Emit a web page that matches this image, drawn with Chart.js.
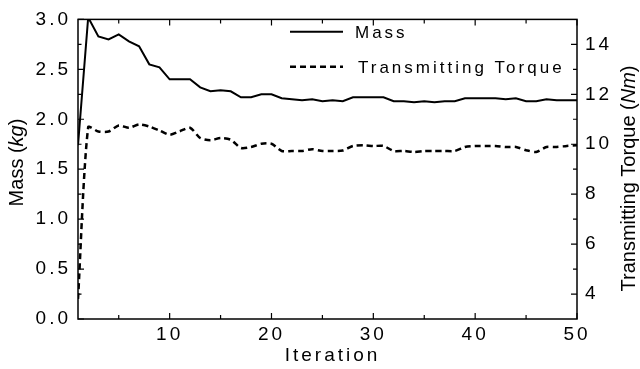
<!DOCTYPE html>
<html>
<head>
<meta charset="utf-8">
<script src="https://cdn.jsdelivr.net/npm/chart.js@4.4.0/dist/chart.umd.min.js"></script>
<style>
  html, body { margin: 0; padding: 0; background: #fff; }
  #wrap { width: 640px; height: 369px; }
</style>
</head>
<body>
<div id="wrap"><canvas id="chart"></canvas></div>
<script>
// data
const iterations = [1, 2, 3, 4, 5, 6, 7, 8, 9, 10,
  11, 12, 13, 14, 15, 16, 17, 18, 19, 20,
  21, 22, 23, 24, 25, 26, 27, 28, 29, 30,
  31, 32, 33, 34, 35, 36, 37, 38, 39, 40,
  41, 42, 43, 44, 45, 46, 47, 48, 49, 50];
const mass = [1.74, 3.02, 2.83, 2.80, 2.85, 2.78, 2.73, 2.55, 2.52, 2.40,
  2.40, 2.40, 2.32, 2.28, 2.29, 2.28, 2.22, 2.22, 2.25, 2.25,
  2.21, 2.20, 2.19, 2.20, 2.18, 2.19, 2.18, 2.22, 2.22, 2.22,
  2.22, 2.18, 2.18, 2.17, 2.18, 2.17, 2.18, 2.18, 2.21, 2.21,
  2.21, 2.21, 2.20, 2.21, 2.18, 2.18, 2.20, 2.19, 2.19, 2.19];
const torque = [3.8, 10.68, 10.51, 10.51, 10.75, 10.66, 10.79, 10.71, 10.55, 10.38,
  10.52, 10.66, 10.25, 10.16, 10.25, 10.18, 9.85, 9.89, 10.02, 10.02,
  9.73, 9.73, 9.73, 9.80, 9.73, 9.73, 9.75, 9.93, 9.96, 9.93,
  9.93, 9.73, 9.73, 9.69, 9.73, 9.73, 9.73, 9.73, 9.89, 9.93,
  9.93, 9.93, 9.89, 9.89, 9.76, 9.69, 9.89, 9.89, 9.93, 9.96];

// tick positions
const iterTicks = [10, 20, 30, 40, 50];
const iterMinor = [5, 15, 25, 35, 45];
const massTicks = [0, 0.5, 1.0, 1.5, 2.0, 2.5, 3.0];
const massMinor = [0.25, 0.75, 1.25, 1.75, 2.25, 2.75];
const torqueTicks = [4, 6, 8, 10, 12, 14];
const torqueMinor = [5, 7, 9, 11, 13];

const FONT = "'Liberation Sans', Arial, sans-serif";

const toPoints = (ys) => iterations.map((x, i) => ({ x: x, y: ys[i] }));
const fixTicks = (list) => (scale) => { scale.ticks = list.map(v => ({ value: v })); };

// the original uses wide letter spacing for numbers and legend
const spacing = {
  id: "spacing",
  beforeLayout(chart) { chart.ctx.letterSpacing = "3px"; },
  beforeDraw(chart) { chart.ctx.letterSpacing = "3px"; },
};

// box, inward ticks, titles and legend
const frame = {
  id: "frame",
  afterDraw(chart) {
    const { ctx, chartArea: a, scales } = chart;
    ctx.save();
    ctx.strokeStyle = "#000";
    ctx.fillStyle = "#000";
    ctx.lineWidth = 1.5;
    ctx.strokeRect(a.left, a.top, a.right - a.left, a.bottom - a.top);

    ctx.lineWidth = 1.2;
    ctx.beginPath();
    const xt = (vals, len) => vals.forEach(v => {
      const px = scales.x.getPixelForValue(v);
      ctx.moveTo(px, a.bottom); ctx.lineTo(px, a.bottom - len);
      ctx.moveTo(px, a.top); ctx.lineTo(px, a.top + len);
    });
    const yl = (vals, len) => vals.forEach(v => {
      const py = scales.y.getPixelForValue(v);
      ctx.moveTo(a.left, py); ctx.lineTo(a.left + len, py);
    });
    const yr = (vals, len) => vals.forEach(v => {
      const py = scales.y1.getPixelForValue(v);
      ctx.moveTo(a.right, py); ctx.lineTo(a.right - len, py);
    });
    xt(iterTicks, 6); xt(iterMinor, 4);
    yl(massTicks, 6); yl(massMinor, 3.5);
    yr(torqueTicks, 6); yr(torqueMinor, 4);
    ctx.stroke();

    // x title
    ctx.letterSpacing = "3px";
    ctx.font = "19px " + FONT;
    ctx.textAlign = "center";
    ctx.textBaseline = "alphabetic";
    ctx.fillText("Iteration", 332.5, 361);

    // rotated titles with italic units
    ctx.letterSpacing = "0px";
    const rotTitle = (parts, x, y) => {
      let total = 0;
      parts.forEach(p => { ctx.font = p[1] + "20px " + FONT; total += ctx.measureText(p[0]).width; });
      ctx.save();
      ctx.translate(x, y);
      ctx.rotate(-Math.PI / 2);
      ctx.textAlign = "left";
      let cx = -total / 2;
      parts.forEach(p => {
        ctx.font = p[1] + "20px " + FONT;
        ctx.fillText(p[0], cx, 0);
        cx += ctx.measureText(p[0]).width;
      });
      ctx.restore();
    };
    rotTitle([["Mass (", ""], ["kg", "italic "], [")", ""]], 23, 162.5);
    rotTitle([["Transmitting Torque (", ""], ["Nm", "italic "], [")", ""]], 635, 178.5);

    // legend
    ctx.lineWidth = 2;
    ctx.beginPath();
    ctx.moveTo(290, 31.7); ctx.lineTo(343, 31.7);
    ctx.stroke();
    ctx.lineWidth = 2.5;
    ctx.setLineDash([6, 4]);
    ctx.beginPath();
    ctx.moveTo(290, 66.7); ctx.lineTo(343, 66.7);
    ctx.stroke();
    ctx.setLineDash([]);
    ctx.letterSpacing = "3px";
    ctx.font = "17px " + FONT;
    ctx.textAlign = "left";
    ctx.fillText("Mass", 355, 37.7);
    ctx.fillText("Transmitting Torque", 358, 72.7);
    ctx.restore();
  }
};

const tickFont = { family: FONT, size: 19 };

new Chart(document.getElementById("chart"), {
  type: "line",
  data: {
    datasets: [
      {
        label: "Mass",
        data: toPoints(mass),
        yAxisID: "y",
        borderColor: "#000",
        borderWidth: 2,
        pointRadius: 0,
        tension: 0,
      },
      {
        label: "Transmitting Torque",
        data: toPoints(torque),
        yAxisID: "y1",
        borderColor: "#000",
        borderWidth: 2.5,
        borderDash: [6, 4],
        pointRadius: 0,
        tension: 0.25,
      },
    ],
  },
  options: {
    responsive: true,
    maintainAspectRatio: false,
    animation: false,
    layout: { padding: { top: 16, left: 0, right: 0, bottom: 0 } },
    plugins: { legend: { display: false }, tooltip: { enabled: false } },
    scales: {
      x: {
        type: "linear",
        min: 1,
        max: 50,
        afterBuildTicks: fixTicks(iterTicks),
        afterFit: (s) => { s.height = 50; },
        grid: { display: false, drawTicks: false },
        border: { display: false },
        ticks: { color: "#000", font: tickFont, padding: 4, maxRotation: 0 },
      },
      y: {
        position: "left",
        min: 0,
        max: 3,
        afterBuildTicks: fixTicks(massTicks),
        afterFit: (s) => { s.width = 78; },
        grid: { display: false, drawTicks: false },
        border: { display: false },
        ticks: { color: "#000", font: tickFont, padding: 7, callback: (v) => v.toFixed(1) },
      },
      y1: {
        position: "right",
        min: 3,
        max: 15,
        afterBuildTicks: fixTicks(torqueTicks),
        afterFit: (s) => { s.width = 63; },
        grid: { display: false, drawTicks: false },
        border: { display: false },
        ticks: { color: "#000", font: tickFont, padding: 8 },
      },
    },
  },
  plugins: [spacing, frame],
});
</script>
</body>
</html>
